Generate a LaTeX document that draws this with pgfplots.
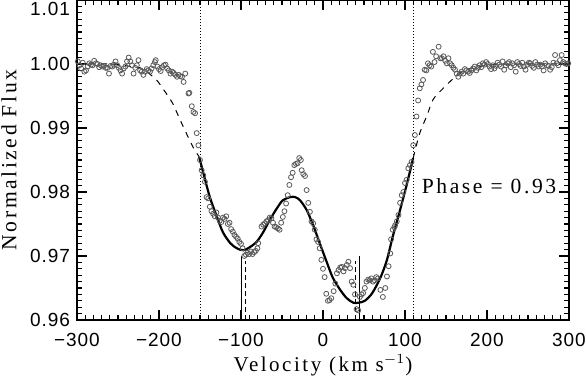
\documentclass[border=0pt]{standalone}
\usepackage{fontspec}
\setmainfont{Liberation Serif}
\newfontfamily\labfont[LetterSpace=12]{Liberation Serif}
\newfontfamily\tickfont[LetterSpace=5]{Liberation Sans}
\usepackage{pgfplots}
\pgfplotsset{compat=1.18}
\usetikzlibrary{calc}

\pgfplotstableread{
v flux
-299 1.0004
-297 0.9998
-295 0.9993
-293 1.0002
-291 0.9988
-289 0.9990
-287 0.9996
-285 1.0001
-283 0.9999
-281 0.9998
-279 1.0005
-277 1.0001
-275 1.0000
-273 0.9995
-271 0.9998
-269 0.9996
-267 0.9997
-265 0.9994
-263 0.9994
-261 0.9985
-259 0.9997
-257 0.9996
-255 0.9999
-253 1.0004
-251 0.9998
-249 0.9994
-247 0.9990
-245 0.9985
-243 0.9993
-241 0.9996
-239 1.0004
-237 1.0010
-235 1.0004
-233 0.9998
-231 0.9985
-229 0.9994
-227 0.9998
-225 1.0006
-223 0.9990
-221 0.9988
-219 0.9983
-217 0.9988
-215 0.9992
-213 0.9990
-211 0.9988
-209 0.9993
-207 0.9998
-205 1.0003
-204 1.0006
-202 0.9996
-200 0.9992
-198 0.9989
-196 0.9995
-194 0.9998
-192 0.9999
-190 0.9993
-188 0.9990
-186 0.9985
-184 0.9988
-182 0.9986
-180 0.9983
-178 0.9980
-176 0.9983
-174 0.9981
-172 0.9980
-170 0.9972
-168 0.9985
-164 0.9954
-163 0.9955
-160 0.9934
-158 0.9925
-156 0.9923
-154 0.9892
-152 0.9873
-150 0.9850
-148 0.9834
-146 0.9826
-144 0.9816
-142 0.9792
-140 0.9790
-138 0.9777
-136 0.9770
-134 0.9766
-132 0.9762
-130 0.9768
-128 0.9760
-126 0.9755
-124 0.9753
-122 0.9760
-120 0.9758
-118 0.9762
-116 0.9750
-114 0.9752
-112 0.9742
-110 0.9738
-108 0.9733
-106 0.9730
-104 0.9727
-102 0.9722
-100 0.9719
-98 0.9712
-96 0.9700
-94 0.9702
-92 0.9705
-90 0.9703
-88 0.9707
-86 0.9703
-84 0.9706
-82 0.9708
-80 0.9712
-79 0.9720
-75 0.9746
-73 0.9749
-71 0.9751
-69 0.9754
-67 0.9756
-65 0.9760
-63 0.9759
-61 0.9752
-59 0.9746
-57 0.9745
-55 0.9743
-53 0.9741
-51 0.9752
-49 0.9761
-47 0.9770
-45 0.9782
-43 0.9795
-41 0.9811
-39 0.9823
-37 0.9830
-35 0.9842
-33 0.9844
-31 0.9845
-29 0.9853
-27 0.9850
-26 0.9834
-24 0.9828
-22 0.9825
-20 0.9803
-18 0.9783
-16 0.9769
-14 0.9754
-12 0.9751
-10 0.9741
-8 0.9726
-6 0.9722
-4 0.9712
-2 0.9694
0 0.9680
2 0.9667
4 0.9641
6 0.9630
8 0.9631
10 0.9634
13 0.9645
15 0.9657
17 0.9673
19 0.9678
21 0.9682
23 0.9683
25 0.9676
27 0.9681
29 0.9686
31 0.9691
33 0.9681
35 0.9660
37 0.9655
39 0.9640
41 0.9617
43 0.9615
45 0.9636
47 0.9640
49 0.9642
51 0.9650
53 0.9660
55 0.9663
57 0.9662
59 0.9665
61 0.9660
63 0.9662
65 0.9667
67 0.9665
70 0.9647
73 0.9636
76 0.9650
78 0.9668
80 0.9684
82 0.9704
83 0.9726
85 0.9741
87 0.9745
88 0.9748
90 0.9754
92 0.9764
94 0.9783
96 0.9795
98 0.9800
100 0.9814
102 0.9819
104 0.9837
106 0.9842
108 0.9847
110 0.9873
112 0.9889
114 0.9918
116 0.9943
118 0.9962
120 0.9968
122 0.9975
124 0.9991
126 0.9990
128 1.0001
130 0.9998
132 0.9996
134 1.0019
136 1.0003
138 1.0012
141 1.0027
143 1.0009
145 1.0009
147 1.0012
149 1.0005
151 1.0001
153 1.0009
155 1.0001
157 0.9998
159 0.9994
161 0.9991
163 0.9985
165 0.9980
167 0.9985
169 0.9988
171 0.9985
173 0.9992
175 0.9990
177 0.9988
179 0.9986
181 0.9990
183 0.9993
185 0.9996
187 0.9990
189 0.9994
191 0.9998
193 0.9995
195 1.0001
197 0.9999
199 1.0003
201 1.0000
203 0.9996
205 0.9992
207 0.9998
209 0.9993
211 0.9997
213 1.0002
215 0.9999
217 0.9996
219 1.0004
221 0.9991
223 0.9998
225 1.0001
227 1.0003
229 0.9995
231 1.0001
233 0.9998
235 0.9988
237 1.0003
239 1.0000
241 0.9997
243 1.0002
245 0.9996
247 0.9991
249 0.9999
251 1.0002
253 1.0001
255 0.9997
257 0.9994
259 1.0003
261 0.9999
263 0.9996
265 0.9999
267 0.9996
269 0.9990
271 1.0001
273 0.9998
275 0.9997
277 0.9991
279 0.9995
281 1.0002
283 1.0014
285 1.0001
287 0.9998
289 1.0006
291 1.0014
293 1.0003
295 1.0001
297 1.0000
299 1.0001
}\obsdata

% two-component fit, solid inside the fit window
\pgfplotstableread{
v flux
-151 0.9855
-146 0.9830
-138 0.9792
-129 0.9760
-122 0.9737
-113 0.9720
-105 0.9712
-97 0.9709
-89 0.9714
-81 0.9722
-73 0.9737
-65 0.9756
-56 0.9775
-49 0.9787
-40 0.9792
-34 0.9792
-28 0.9787
-20 0.9772
-12 0.9748
-4 0.9720
5 0.9689
12 0.9666
21 0.9647
29 0.9634
37 0.9627
43 0.9627
51 0.9630
60 0.9642
70 0.9666
78 0.9694
85 0.9730
94 0.9772
102 0.9811
110 0.9853
}\fitdata

\begin{document}
\begin{tikzpicture}
\begin{axis}[
  name=ax, scale only axis, width=246pt, height=160pt,
  xmin=-300, xmax=300, ymin=0.96, ymax=1.01,
  xtick={-300,-200,...,300},
  xticklabels={−300,−200,−100,0,100,200,300},
  ytick={0.96,0.97,0.98,0.99,1.00,1.01},
  yticklabels={0.96,0.97,0.98,0.99,1.00,{}},
  minor x tick num=9, minor y tick num=9,
  tick align=inside, major tick length=5pt, minor tick length=2.5pt,
  tick style={black, line width=0.6pt},
  axis line style={line width=0.8pt},
  ticklabel style={font=\tickfont\fontsize{9.5}{11}\selectfont},
  xticklabel style={inner sep=0pt, yshift=-6.5pt},
  xlabel={Velocity (km s$^{-1}$)},
  ylabel={Normalized Flux},
  label style={font=\labfont\fontsize{10.8}{13}\selectfont},
  xlabel style={at={(axis description cs:0.5,0)}, anchor=base, yshift=-25.8pt, inner sep=0pt,
                font=\labfont\fontsize{10.5}{12}\selectfont},
  ylabel style={at={(axis description cs:0,0.5)}, anchor=north, xshift=0pt, yshift=38pt, inner sep=0pt},
  clip=false,
]
\addplot[black, densely dotted, line width=0.5pt] coordinates {(-150,0.96) (-150,1.01)};
\addplot[black, densely dotted, line width=0.5pt] coordinates {(110,0.96) (110,1.01)};
\addplot[black, line width=0.5pt, dash pattern=on 3pt off 3pt, smooth] coordinates {
  (-300,1.0000) (-260,1.0000) (-239,0.9997) (-223,0.9994) (-215,0.9988) (-203,0.9975)
  (-195,0.9961) (-184,0.9940) (-174,0.9912) (-166,0.9890) (-158,0.9869) (-151,0.9855)};
\addplot[black, line width=0.5pt, dash pattern=on 3pt off 3pt, smooth] coordinates {
  (110,0.9853) (118,0.9892) (127,0.9920) (134,0.9944) (145,0.9960) (157,0.9975)
  (170,0.9988) (185,0.9995) (210,0.9999) (240,1.0000) (300,1.0000)};
\addplot[only marks, mark=o, mark size=1.25pt, black!65, mark options={line width=0.4pt}] table[x=v, y=flux] {\obsdata};
\addplot[black, line width=1.1pt, smooth] table[x=v, y=flux] {\fitdata};
\addplot[black, line width=0.5pt] coordinates {(-100,0.96) (-100,0.9700)};
\addplot[black, line width=0.5pt] coordinates {(44,0.96) (44,0.9700)};
\addplot[black, line width=0.5pt, dash pattern=on 2.5pt off 1.5pt] coordinates {(-94,0.96) (-94,0.9692)};
\addplot[black, line width=0.5pt, dash pattern=on 2.5pt off 1.5pt] coordinates {(40,0.96) (40,0.9692)};
\node[anchor=base west, inner sep=0pt, font=\labfont\fontsize{10.8}{13}\selectfont] at (axis cs:120,0.9798) {Phase = 0.93};
\node[anchor=east, font=\tickfont\fontsize{9.5}{11}\selectfont, yshift=-4.25pt] at (rel axis cs:0,1) {1.01};
\end{axis}
\pgfresetboundingbox
\useasboundingbox ($(ax.south west)+(-38.5pt,-28pt)$) rectangle ($(ax.north east)+(8.5pt,0pt)$);
\end{tikzpicture}
\end{document}
